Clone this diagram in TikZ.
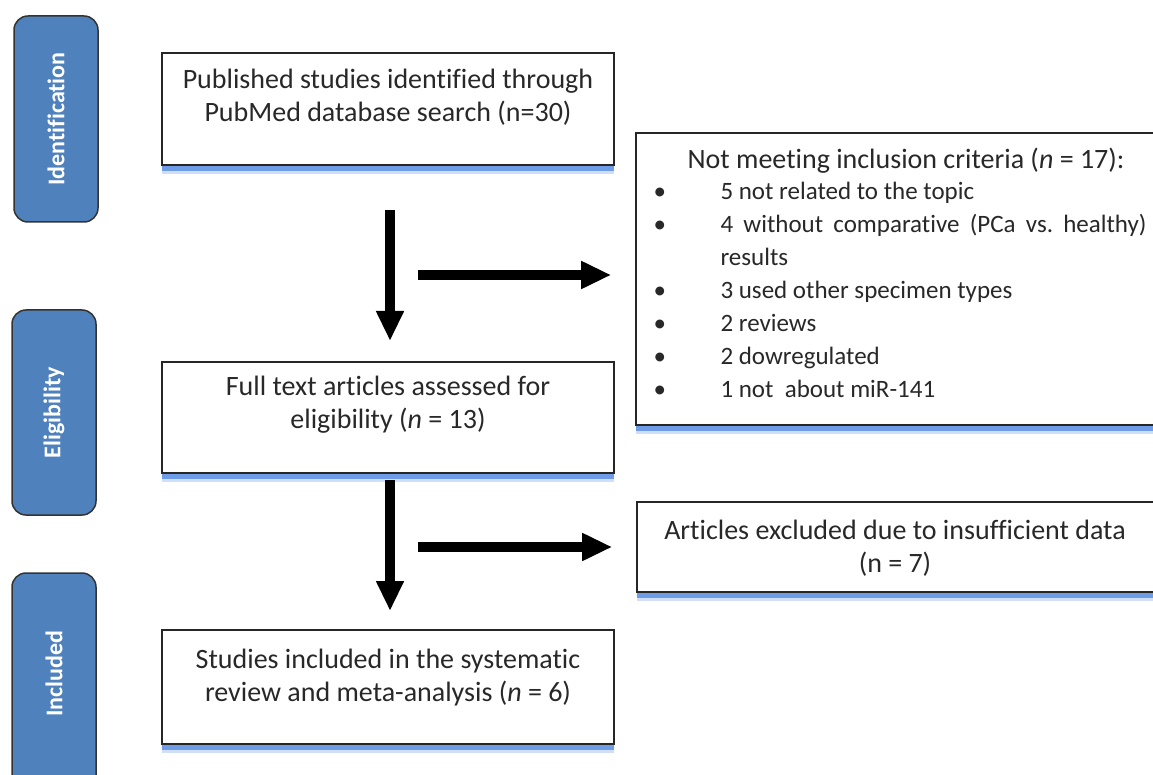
\documentclass[tikz,border=0pt]{standalone}
\usepackage{fontspec}
\setmainfont{Carlito}[Ligatures=NoCommon]
\usetikzlibrary{arrows.meta,shadows}
\definecolor{stageblue}{RGB}{79,129,189}
\definecolor{glow}{RGB}{80,135,225}
\definecolor{txt}{RGB}{40,40,40}
\frenchspacing
\begin{document}
\begin{tikzpicture}[x=1pt,y=-1pt,
  stage/.style={draw=black!80,line width=1.5pt,fill=stageblue,rounded corners=14pt,minimum width=84pt,inner sep=0pt},
  stagetext/.style={rotate=90,text=white,font=\fontsize{24}{28}\selectfont\bfseries},
  box/.style={draw=black!85,line width=1.6pt,fill=white,inner sep=0pt,
    drop shadow={shadow xshift=0pt,shadow yshift=-9pt,fill=glow!45,opacity=0.6},
    drop shadow={shadow xshift=0pt,shadow yshift=-6pt,fill=glow,opacity=0.75}},
  btext/.style={align=center,text=txt,font=\fontsize{28}{33}\selectfont},
  ltext/.style={align=left,text=txt,font=\fontsize{25}{33}\selectfont},
  bigarrow/.style={line width=10pt,-{Triangle[length=30pt,width=26pt]}}]
\useasboundingbox (0,0) rectangle (1153,775);
\clip (0,0) rectangle (1153,775);
% stage boxes
\node[stage,minimum height=206pt] (s1) at (56,119) {};
\node[stagetext] (s1t) at (s1.center) {Identification};
\node[stage,minimum height=205pt] (s2) at (54,412.5) {};
\node[stagetext] (s2t) at (s2.center) {Eligibility};
\node[stage,minimum height=220pt] (s3) at (54,683) {};
\node[stagetext] (s3t) at (54,674) {Included};
% main boxes
\node[box,minimum width=452pt,minimum height=112pt] (b1) at (388,109) {};
\node[btext] (b1t) at (388,97) {Published studies identified through\\PubMed database search (n=30)};
\node[box,minimum width=452pt,minimum height=111pt] (b2) at (388,417.5) {};
\node[btext] (b2t) at (388,405) {Full text articles assessed for\\eligibility (\textit{n} = 13)};
\node[box,minimum width=452pt,minimum height=114pt] (b3) at (388,687) {};
\node[btext] (b3t) at (388,678) {Studies included in the systematic\\review and meta-analysis (\textit{n} = 6)};
\node[box,minimum width=530pt,minimum height=292pt] (e1) at (901,279) {};
\node[btext,anchor=center] (e1h) at (906,161) {Not meeting inclusion criteria (\textit{n} = 17):};
\node[ltext,anchor=north west] (e1l) at (650,179) {%
\makebox[67pt][l]{•}5 not related to the topic\\
\makebox[67pt][l]{•}\makebox[426pt][s]{4 without comparative (PCa vs. healthy)}\\
\makebox[67pt][l]{}results\\
\makebox[67pt][l]{•}3 used other specimen types\\
\makebox[67pt][l]{•}2 reviews\\
\makebox[67pt][l]{•}2 dowregulated\\
\makebox[67pt][l]{•}1 not\ \ about miR-141};
\node[box,minimum width=530pt,minimum height=90pt] (e2) at (902,547) {};
\node[btext] (e2t) at (895,548) {Articles excluded due to insufficient data\\(n = 7)};
% arrows
\coordinate (v1a) at (390,210);
\coordinate (v1b) at (390,341);
\coordinate (h1a) at (418,275);
\coordinate (h1b) at (e1.west |- h1a);
\coordinate (v2a) at (390,480);
\coordinate (v2b) at (390,611);
\coordinate (h2a) at (418,547);
\coordinate (h2b) at (e2.west |- h2a);
\draw[bigarrow] (v1a) -- (v1b);
\draw[bigarrow] (h1a) -- ([xshift=-24pt]h1b);
\draw[bigarrow] (v2a) -- (v2b);
\draw[bigarrow] (h2a) -- ([xshift=-24pt]h2b);
\end{tikzpicture}
\end{document}
